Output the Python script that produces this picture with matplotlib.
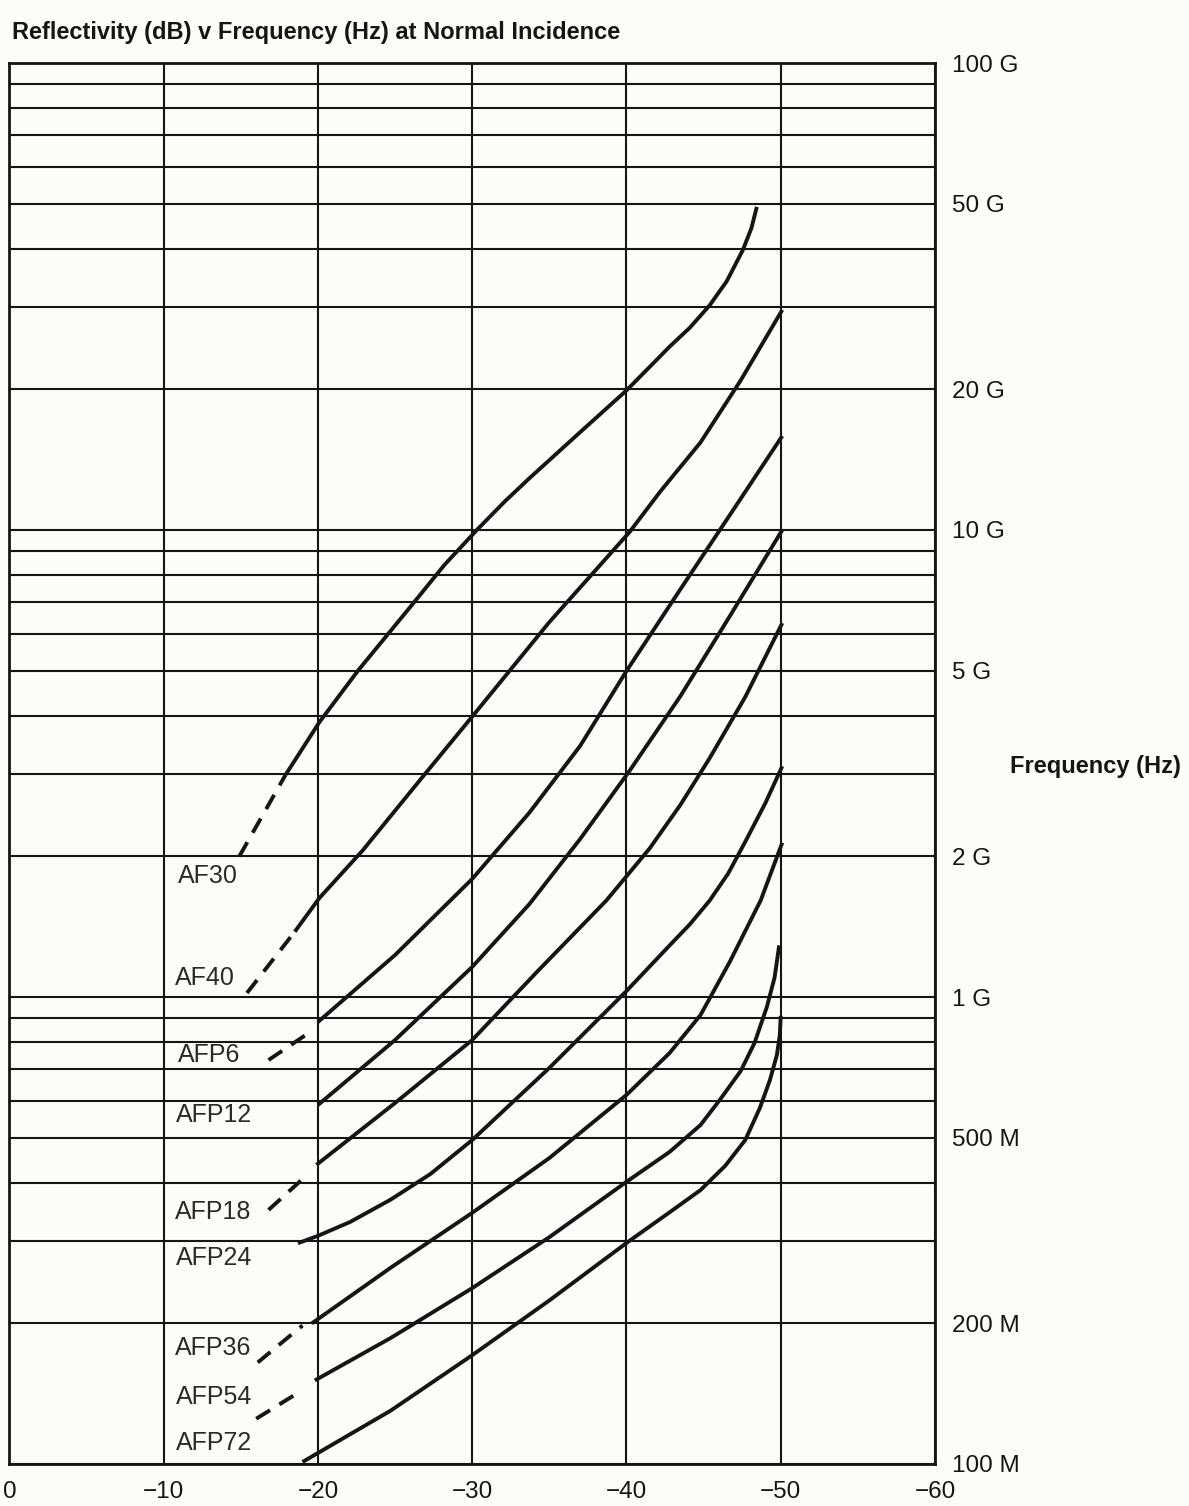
import numpy as np
import matplotlib.pyplot as plt
from matplotlib.ticker import LogLocator, NullFormatter

plt.rcParams['font.family'] = ['Liberation Sans', 'DejaVu Sans']

# reflectivity in dB (negative), frequency in GHz
# dashed = extrapolated low-frequency part, solid = measured part
af30_dash_db = [-14.9, -17.9]
af30_dash_f = [2.0, 2.99]
af30_db = [-17.9, -20.1, -22.6, -26.2, -28.2, -30.3, -32.1, -33.7, -37.0, -40.0,
           -42.8, -44.1, -45.4, -46.5, -47.55, -48.1, -48.45]
af30_f = [2.99, 3.88, 5.0, 6.98, 8.42, 10.0, 11.5, 12.9, 16.2, 19.9,
          24.7, 27.1, 30.3, 34.1, 39.8, 44.3, 49.2]

af40_dash_db = [-15.4, -18.5]
af40_dash_f = [1.02, 1.38]
af40_db = [-18.5, -20.1, -22.9, -26.6, -30.2, -35.0, -40.2, -42.2, -44.8, -47.4, -50.1]
af40_f = [1.38, 1.63, 2.06, 2.91, 4.06, 6.35, 9.9, 12.1, 15.4, 20.9, 29.6]

afp6_dash_db = [-16.8, -19.2]
afp6_dash_f = [0.733, 0.829]
afp6_db = [-20.0, -25.0, -30.0, -33.7, -37.0, -40.0, -43.5, -47.2, -50.1]
afp6_f = [0.884, 1.23, 1.79, 2.48, 3.45, 4.99, 7.47, 11.4, 15.9]

afp12_db = [-20.0, -25.0, -30.0, -33.7, -37.0, -40.2, -43.5, -46.7, -50.1]
afp12_f = [0.587, 0.809, 1.16, 1.58, 2.18, 3.05, 4.41, 6.54, 10.0]

afp18_dash_db = [-16.8, -19.3]
afp18_dash_f = [0.350, 0.416]
afp18_db = [-19.9, -25.0, -30.0, -34.4, -38.7, -41.5, -43.5, -45.4, -47.7, -50.1]
afp18_f = [0.437, 0.593, 0.809, 1.15, 1.61, 2.08, 2.58, 3.25, 4.39, 6.32]

afp24_db = [-18.7, -20.0, -22.1, -24.7, -27.3, -30.0, -35.0, -40.0, -42.8, -44.1,
            -45.4, -46.6, -47.7, -49.0, -50.1]
afp24_f = [0.297, 0.308, 0.330, 0.368, 0.418, 0.494, 0.705, 1.03, 1.29, 1.43,
           1.61, 1.84, 2.15, 2.60, 3.12]

afp36_dash_db = [-16.1, -19.0]
afp36_dash_f = [0.165, 0.198]
afp36_db = [-19.6, -24.7, -30.0, -35.0, -40.0, -42.8, -44.8, -46.7, -48.7, -50.1]
afp36_f = [0.200, 0.263, 0.345, 0.452, 0.617, 0.759, 0.915, 1.19, 1.61, 2.14]

afp54_dash_db = [-16.0, -19.0]
afp54_dash_f = [0.125, 0.144]
afp54_db = [-19.8, -24.7, -30.0, -35.0, -40.0, -42.8, -44.8, -46.05, -47.4,
            -48.3, -49.1, -49.6, -49.9]
afp54_f = [0.151, 0.186, 0.238, 0.306, 0.402, 0.466, 0.532, 0.602, 0.694,
           0.797, 0.952, 1.10, 1.29]

afp72_db = [-19.0, -24.7, -30.0, -35.0, -40.1, -42.8, -44.8, -46.4, -47.7,
            -48.65, -49.3, -49.75, -49.94, -50.0]
afp72_f = [0.101, 0.130, 0.171, 0.224, 0.299, 0.346, 0.386, 0.435, 0.494,
           0.579, 0.664, 0.751, 0.829, 0.911]

names = ['AF30', 'AF40', 'AFP6', 'AFP12', 'AFP18', 'AFP24', 'AFP36', 'AFP54', 'AFP72']

x_ticks = [0, -10, -20, -30, -40, -50, -60]
x_labels = ['0', '\u221210', '\u221220', '\u221230', '\u221240', '\u221250', '\u221260']
y_ticks = [1e8, 2e8, 5e8, 1e9, 2e9, 5e9, 1e10, 2e10, 5e10, 1e11]
y_labels = ['100 M', '200 M', '500 M', '1 G', '2 G', '5 G', '10 G', '20 G', '50 G', '100 G']

solid = [(af30_db, af30_f), (af40_db, af40_f), (afp6_db, afp6_f), (afp12_db, afp12_f),
         (afp18_db, afp18_f), (afp24_db, afp24_f), (afp36_db, afp36_f),
         (afp54_db, afp54_f), (afp72_db, afp72_f)]
dashed = [(af30_dash_db, af30_dash_f), (af40_dash_db, af40_dash_f),
          (afp6_dash_db, afp6_dash_f), (afp18_dash_db, afp18_dash_f),
          (afp36_dash_db, afp36_dash_f), (afp54_dash_db, afp54_dash_f)]

# where each curve name sits (dB, GHz)
label_x = [-10.9, -10.7, -10.9, -10.8, -10.7, -10.8, -10.7, -10.8, -10.8]
label_y = [1.82, 1.10, 0.751, 0.559, 0.346, 0.276, 0.177, 0.139, 0.111]

ink = '#151515'
paper = '#fcfcf8'

fig = plt.figure(figsize=(11.89, 15.06), dpi=100, facecolor=paper)
ax = fig.add_axes([9.4 / 1189, 1 - 1464 / 1506, (935 - 9.4) / 1189, (1464 - 63) / 1506])
ax.set_facecolor(paper)

ax.set_yscale('log')
ax.set_xlim(0, -60)
ax.set_ylim(1e8, 1e11)

ax.set_xticks(x_ticks)
ax.set_xticklabels(x_labels, fontsize=17.5, color=ink)
ax.set_yticks(y_ticks)
ax.set_yticklabels(y_labels, fontsize=17.5, color=ink)
ax.yaxis.set_minor_locator(LogLocator(base=10, subs=np.arange(1, 10)))
ax.yaxis.set_minor_formatter(NullFormatter())
ax.yaxis.tick_right()
ax.tick_params(axis='both', which='both', length=0)
ax.tick_params(axis='x', pad=12)
ax.tick_params(axis='y', pad=12)

ax.grid(True, axis='x', which='major', color=ink, lw=1.5)
ax.grid(True, axis='y', which='both', color=ink, lw=1.5)
for s in ax.spines.values():
    s.set_linewidth(2.0)
    s.set_color(ink)

for db, f in solid:
    ax.plot(db, np.array(f) * 1e9, color=ink, lw=2.8, solid_capstyle='butt',
            solid_joinstyle='round', zorder=3)
for db, f in dashed:
    ax.plot(db, np.array(f) * 1e9, color=ink, lw=2.8, linestyle=(0, (4.2, 2.8)),
            dash_capstyle='butt', zorder=3)

for name, lx, ly in zip(names, label_x, label_y):
    ax.text(lx, ly * 1e9, name, fontsize=18, color='#2a2a2a', ha='left', va='center',
            zorder=4)

fig.text(12 / 1189, 1 - 32 / 1506, 'Reflectivity (dB) v Frequency (Hz) at Normal Incidence',
         fontsize=17, fontweight='bold', color=ink, ha='left', va='center')
fig.text(1010 / 1189, 1 - 767 / 1506, 'Frequency (Hz)', fontsize=17, fontweight='bold',
         color=ink, ha='left', va='center')

fig.savefig('out.png', dpi=100, facecolor=paper)
